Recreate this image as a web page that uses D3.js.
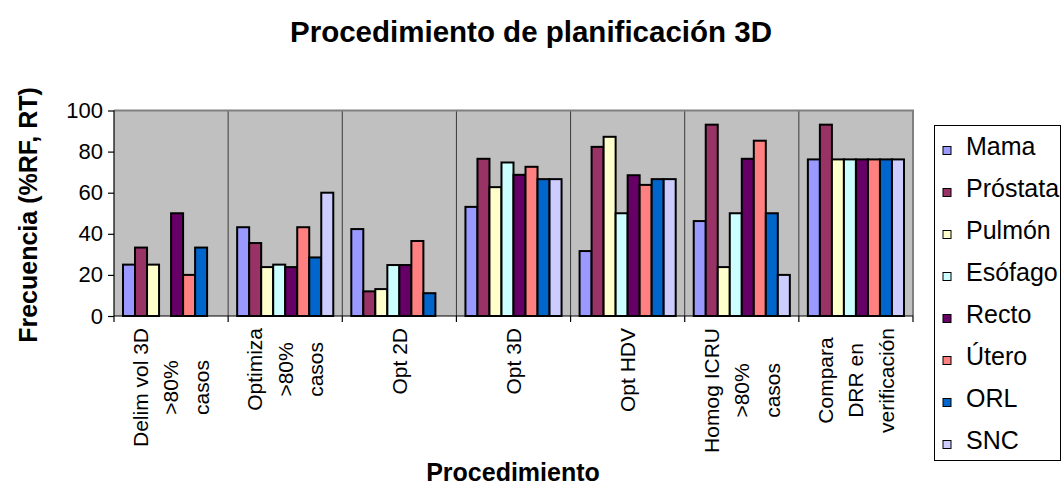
<!DOCTYPE html>
<html>
<head>
<meta charset="utf-8">
<script src="https://cdn.jsdelivr.net/npm/d3@7"></script>
<style>
  html, body { margin: 0; padding: 0; background: #fff; }
  svg { display: block; font-family: "Liberation Sans", Arial, sans-serif; }
</style>
</head>
<body>
<svg id="chart" width="1063" height="485"></svg>
<script>
// Procedures (x categories), each split into its label lines
const categories = [
  "Delim vol 3D\n>80%\ncasos",
  "Optimiza\n>80%\ncasos",
  "Opt 2D",
  "Opt 3D",
  "Opt HDV",
  "Homog ICRU\n>80%\ncasos",
  "Compara\nDRR en\nverificación"
];

// Tumour sites (series)
const seriesNames = ["Mama", "Próstata", "Pulmón", "Esófago", "Recto", "Útero", "ORL", "SNC"];
const seriesColors = ["#9999FF", "#993366", "#FFFFCC", "#CCFFFF", "#660066", "#FF8080", "#0066CC", "#CCCCFF"];

// Frequency (% of RF, RT) per procedure
const mama     = [25.0, 43.2, 42.3, 53.1, 31.6, 46.2, 76.2];
const prostata = [33.3, 35.5, 12.0, 76.5, 82.3, 93.1, 93.1];
const pulmon   = [25.0, 23.8, 13.1, 62.7, 87.2, 23.8, 76.2];
const esofago  = [0,    25.0, 24.8, 74.7, 50.0, 50.0, 76.2];
const recto    = [50.0, 23.8, 24.8, 68.7, 68.5, 76.5, 76.2];
const utero    = [20.0, 43.2, 36.5, 72.6, 63.8, 85.3, 76.2];
const orl      = [33.3, 28.5, 11.1, 66.6, 66.6, 50.0, 76.2];
const snc      = [0,    60.0, 0,    66.6, 66.6, 20.0, 76.2];

const yTicks = [0, 20, 40, 60, 80, 100];

const seriesValues = [mama, prostata, pulmon, esofago, recto, utero, orl, snc];

const svg = d3.select("#chart");

const plot = { left: 114, right: 913, top: 110.5, bottom: 316 };

const x0 = d3.scaleBand()
  .domain(d3.range(categories.length))
  .range([plot.left, plot.right])
  .paddingInner(0).paddingOuter(0);

const x1 = d3.scaleBand()
  .domain(d3.range(seriesNames.length))
  .range([0, x0.bandwidth()])
  .paddingInner(0)
  .paddingOuter(0.75);

const y = d3.scaleLinear().domain([0, 100]).range([plot.bottom, plot.top]);

// Plot area background
svg.append("rect")
  .attr("x", plot.left).attr("y", plot.top)
  .attr("width", plot.right - plot.left).attr("height", plot.bottom - plot.top)
  .attr("fill", "#C0C0C0");

// Vertical separators between procedures
svg.append("g")
  .selectAll("line")
  .data(d3.range(1, categories.length))
  .join("line")
  .attr("x1", i => x0(i)).attr("x2", i => x0(i))
  .attr("y1", plot.top).attr("y2", plot.bottom)
  .attr("stroke", "#3a3a3a").attr("stroke-width", 1);

// Plot area frame (top and right)
svg.append("path")
  .attr("d", `M${plot.left},${plot.top}H${plot.right}V${plot.bottom}`)
  .attr("fill", "none").attr("stroke", "#808080").attr("stroke-width", 2);

// Bars
const groups = svg.append("g")
  .selectAll("g")
  .data(categories.map((c, ci) => ci))
  .join("g")
  .attr("transform", ci => `translate(${x0(ci)},0)`);

groups.selectAll("rect")
  .data(ci => seriesValues.map((vals, si) => ({ si, v: vals[ci] })).filter(d => d.v > 0))
  .join("rect")
  .attr("x", d => x1(d.si))
  .attr("width", x1.bandwidth())
  .attr("y", d => y(d.v))
  .attr("height", d => y(0) - y(d.v))
  .attr("fill", d => seriesColors[d.si])
  .attr("stroke", "#000")
  .attr("stroke-width", 2);

// Y axis
const yAxis = d3.axisLeft(y).tickValues(yTicks).tickSize(6).tickPadding(5).tickFormat(d3.format("d"));
const gy = svg.append("g").attr("transform", `translate(${plot.left},0)`).call(yAxis);
gy.select(".domain").attr("stroke", "#000").attr("stroke-width", 1.2).attr("d", `M0,${plot.top}V${plot.bottom}`);
gy.selectAll(".tick line").attr("stroke", "#000").attr("stroke-width", 1.2);
gy.selectAll(".tick text").attr("font-size", 22).attr("fill", "#000")
  .attr("font-family", "Liberation Sans, Arial, sans-serif");

// X axis line and boundary ticks
svg.append("line")
  .attr("x1", plot.left).attr("x2", plot.right)
  .attr("y1", plot.bottom).attr("y2", plot.bottom)
  .attr("stroke", "#000").attr("stroke-width", 1.2);
svg.append("g")
  .selectAll("line")
  .data(d3.range(categories.length + 1))
  .join("line")
  .attr("x1", i => i < categories.length ? x0(i) : plot.right)
  .attr("x2", i => i < categories.length ? x0(i) : plot.right)
  .attr("y1", plot.bottom).attr("y2", plot.bottom + 6)
  .attr("stroke", "#000").attr("stroke-width", 1.2);

// Rotated category labels
const labelTop = 328;
const lineGap = 30.5;
const xlab = svg.append("g").attr("font-size", 21).attr("fill", "#000");
categories.forEach((c, ci) => {
  const lines = c.split("\n");
  const cx = x0(ci) + x0.bandwidth() / 2;
  const texts = lines.map((ln, li) => {
    const px = cx + (li - (lines.length - 1) / 2) * lineGap;
    return xlab.append("text")
      .attr("text-anchor", "middle")
      .attr("dy", "0.35em")
      .attr("data-x", px)
      .text(ln);
  });
  const longest = d3.max(texts, t => t.node().getComputedTextLength());
  const cy = labelTop + longest / 2;
  texts.forEach(t => t.attr("transform", `translate(${t.attr("data-x")},${cy}) rotate(-90)`).attr("data-x", null));
});

// Title
svg.append("text")
  .attr("x", 531).attr("y", 42)
  .attr("text-anchor", "middle")
  .attr("font-size", 29.5).attr("font-weight", "bold")
  .text("Procedimiento de planificación 3D");

// Axis titles
svg.append("text")
  .attr("x", 513).attr("y", 481)
  .attr("text-anchor", "middle")
  .attr("font-size", 25).attr("font-weight", "bold")
  .text("Procedimiento");

svg.append("text")
  .attr("transform", "translate(28,215) rotate(-90)")
  .attr("dy", "0.35em")
  .attr("text-anchor", "middle")
  .attr("font-size", 25).attr("font-weight", "bold")
  .text("Frecuencia (%RF, RT)");

// Legend
const legend = svg.append("g");
legend.append("rect")
  .attr("x", 934.5).attr("y", 125.5)
  .attr("width", 126).attr("height", 335)
  .attr("fill", "#fff").attr("stroke", "#000").attr("stroke-width", 1);

const legendRows = legend.selectAll("g.row")
  .data(seriesNames.map((n, i) => ({ n, i })))
  .join("g").attr("class", "row")
  .attr("transform", d => `translate(0,${155 + d.i * 42})`);

legendRows.append("rect")
  .attr("x", 943).attr("y", -8.5)
  .attr("width", 8).attr("height", 8)
  .attr("fill", d => seriesColors[d.i])
  .attr("stroke", "#000").attr("stroke-width", 1);

legendRows.append("text")
  .attr("x", 966).attr("y", 0)
  .attr("font-size", 25).attr("fill", "#000")
  .text(d => d.n);
</script>
</body>
</html>
